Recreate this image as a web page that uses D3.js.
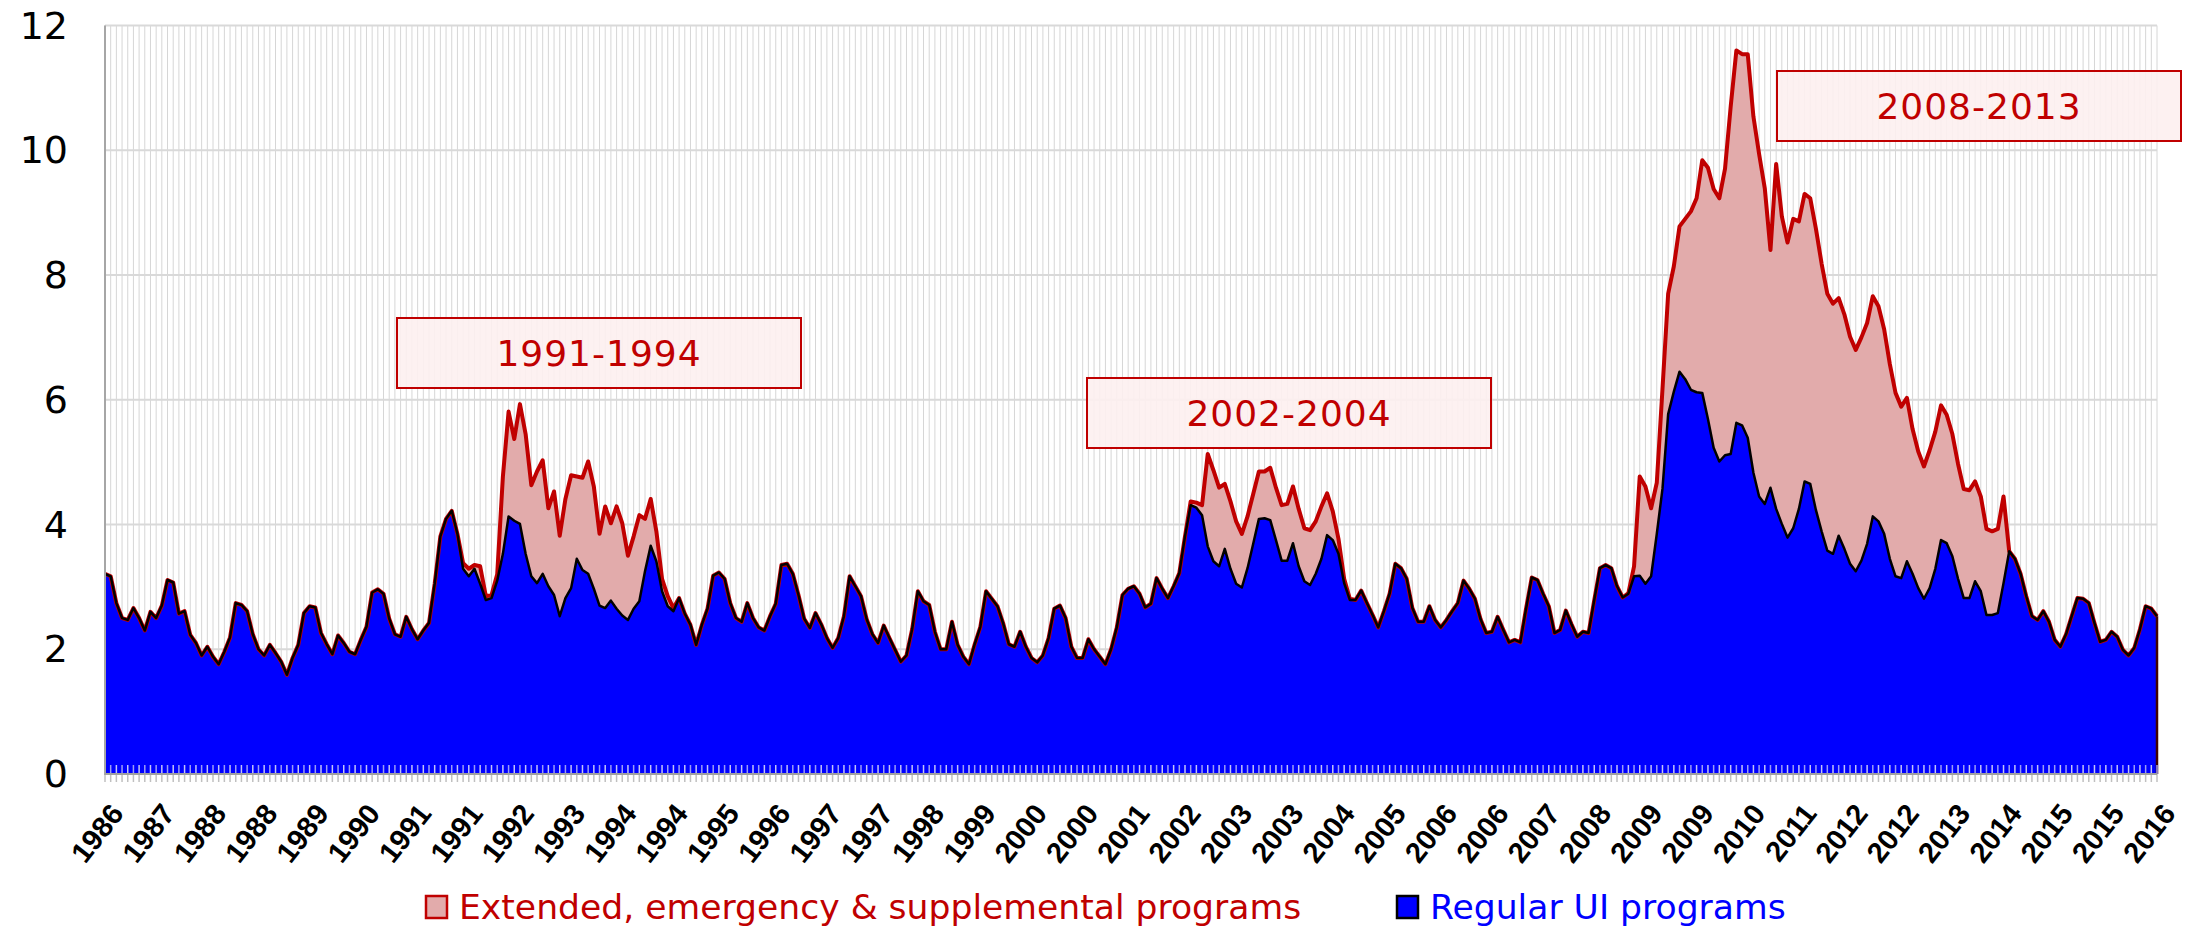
<!DOCTYPE html>
<html>
<head>
<meta charset="utf-8">
<style>
  body { margin: 0; background: #ffffff; }
  svg text { font-family: "DejaVu Sans", Verdana, sans-serif; }
  .ylab { font-size: 38px; fill: #000000; }
  .xlab { font-family: "Liberation Sans", Arial, sans-serif; font-size: 29px; font-weight: bold; fill: #000000; }
  .legend { font-size: 34.6px; }
  .note { font-size: 36px; fill: #c00000; letter-spacing: 1px; }
</style>
</head>
<body>
<svg id="chart" width="2190" height="926"></svg>
<script src="https://cdnjs.cloudflare.com/ajax/libs/d3/7.8.5/d3.min.js"></script>
<script>
// monthly values, mid 1986 .. mid 2016
var regular = [
  3.21,3.17,2.74,2.50,2.47,2.66,2.50,2.30,2.60,2.50,2.70,3.11,
  3.07,2.57,2.61,2.23,2.10,1.90,2.04,1.88,1.76,1.96,2.19,2.74,
  2.71,2.61,2.24,2.00,1.90,2.07,1.94,1.80,1.59,1.86,2.07,2.58,
  2.69,2.67,2.26,2.08,1.92,2.22,2.10,1.96,1.92,2.15,2.36,2.91,
  2.96,2.89,2.49,2.24,2.20,2.52,2.32,2.16,2.30,2.42,3.05,3.81,
  4.09,4.22,3.85,3.29,3.17,3.29,3.05,2.79,2.82,3.10,3.53,4.13,
  4.06,4.01,3.53,3.17,3.06,3.21,3.01,2.87,2.53,2.82,2.98,3.45,
  3.27,3.21,2.97,2.70,2.66,2.78,2.65,2.54,2.47,2.65,2.77,3.25,
  3.66,3.41,2.93,2.69,2.61,2.82,2.57,2.39,2.07,2.39,2.65,3.18,
  3.23,3.13,2.74,2.50,2.44,2.74,2.50,2.35,2.30,2.53,2.73,3.35,
  3.37,3.21,2.87,2.49,2.34,2.58,2.40,2.18,2.02,2.18,2.53,3.17,
  3.01,2.85,2.48,2.24,2.10,2.38,2.18,1.99,1.80,1.90,2.32,2.93,
  2.77,2.71,2.28,2.00,2.00,2.44,2.07,1.88,1.76,2.08,2.36,2.93,
  2.81,2.69,2.42,2.08,2.04,2.28,2.04,1.86,1.79,1.90,2.18,2.65,
  2.70,2.50,2.04,1.86,1.86,2.16,2.00,1.88,1.76,2.00,2.35,2.87,
  2.97,3.01,2.89,2.67,2.73,3.14,2.97,2.82,3.01,3.22,3.81,4.31,
  4.27,4.15,3.65,3.41,3.33,3.61,3.29,3.05,2.99,3.30,3.69,4.09,
  4.10,4.07,3.75,3.42,3.42,3.70,3.33,3.09,3.03,3.21,3.45,3.83,
  3.75,3.53,3.06,2.79,2.79,2.94,2.74,2.55,2.35,2.61,2.89,3.37,
  3.30,3.13,2.66,2.44,2.44,2.69,2.47,2.35,2.47,2.61,2.74,3.10,
  2.97,2.81,2.48,2.26,2.28,2.52,2.31,2.11,2.15,2.11,2.65,3.15,
  3.11,2.89,2.69,2.26,2.31,2.62,2.40,2.20,2.28,2.26,2.79,3.30,
  3.35,3.30,3.01,2.83,2.89,3.17,3.18,3.05,3.17,3.85,4.57,5.77,
  6.13,6.45,6.33,6.16,6.12,6.11,5.69,5.23,5.01,5.11,5.13,5.63,
  5.59,5.39,4.83,4.45,4.33,4.59,4.25,4.01,3.79,3.94,4.25,4.69,
  4.65,4.23,3.89,3.58,3.53,3.82,3.61,3.37,3.25,3.42,3.69,4.13,
  4.05,3.85,3.45,3.17,3.14,3.41,3.21,2.98,2.81,2.98,3.29,3.75,
  3.70,3.49,3.13,2.82,2.82,3.09,2.93,2.55,2.55,2.58,3.06,3.57,
  3.45,3.21,2.85,2.53,2.47,2.61,2.44,2.15,2.04,2.24,2.53,2.82,
  2.81,2.74,2.42,2.12,2.15,2.28,2.20,1.99,1.90,2.02,2.32,2.69,
  2.65,2.53
];

var extended = [
  0,0,0,0,0,0,0,0,0,0,0,0,
  0,0,0,0,0,0,0,0,0,0,0,0,
  0,0,0,0,0,0,0,0,0,0,0,0,
  0,0,0,0,0,0,0,0,0,0,0,0,
  0,0,0,0,0,0,0,0,0,0,0,0,
  0,0,0,0.09,0.12,0.06,0.28,0.06,0.05,0.10,1.24,1.68,
  1.31,1.92,1.92,1.46,1.79,1.82,1.25,1.66,1.29,1.59,1.81,1.32,
  1.48,1.80,1.64,1.15,1.63,1.24,1.64,1.48,1.03,1.16,1.38,0.84,
  0.75,0.48,0.20,0.16,0.05,0,0,0,0,0,0,0,
  0,0,0,0,0,0,0,0,0,0,0,0,
  0,0,0,0,0,0,0,0,0,0,0,0,
  0,0,0,0,0,0,0,0,0,0,0,0,
  0,0,0,0,0,0,0,0,0,0,0,0,
  0,0,0,0,0,0,0,0,0,0,0,0,
  0,0,0,0,0,0,0,0,0,0,0,0,
  0,0,0,0,0,0,0,0,0,0,0,0.06,
  0.08,0.16,1.48,1.46,1.26,1.04,1.08,1.00,0.86,0.83,0.80,0.76,
  0.75,0.84,0.84,0.89,0.91,0.91,0.92,0.85,0.88,0.84,0.84,0.67,
  0.46,0.24,0.07,0.02,0,0,0,0,0,0,0,0,
  0,0,0,0,0,0,0,0,0,0,0,0,
  0,0,0,0,0,0,0,0,0,0,0,0,
  0,0,0,0,0,0,0,0,0,0,0,0,
  0,0,0,0,0.01,0.16,1.59,1.56,1.09,0.82,1.60,1.93,
  2.01,2.33,2.57,2.86,3.11,3.73,4.03,4.15,4.22,4.59,5.57,5.97,
  5.95,6.15,5.71,5.49,5.06,3.81,5.53,4.93,4.73,4.96,4.61,4.61,
  4.58,4.51,4.29,4.12,4.01,3.81,3.76,3.64,3.55,3.58,3.54,3.53,
  3.45,3.28,3.12,2.94,2.75,2.62,2.32,2.19,2.12,2.21,2.20,2.16,
  2.06,1.96,1.84,1.75,1.73,1.60,1.52,1.38,1.34,1.35,1.39,0,
  0,0,0,0,0,0,0,0,0,0,0,0,
  0,0,0,0,0,0,0,0,0,0,0,0,
  0,0
];

var tickLabels = ["1986","1987","1988","1988","1989","1990","1991","1991","1992","1993",
  "1994","1994","1995","1996","1997","1997","1998","1999","2000","2000",
  "2001","2002","2003","2003","2004","2005","2006","2006","2007","2008",
  "2009","2009","2010","2011","2012","2012","2013","2014","2015","2015","2016"];

var yTicks = [0, 2, 4, 6, 8, 10, 12];
var seriesNames = ["Extended, emergency & supplemental programs", "Regular UI programs"];
var periods = ["1991-1994", "2002-2004", "2008-2013"];

var svg = d3.select("#chart");
var plotLeft = 105, plotRight = 2157, plotTop = 25.5, plotBottom = 774;
var n = regular.length;

var x = d3.scaleLinear().domain([0, n - 1]).range([plotLeft, plotRight]);
var y = d3.scaleLinear().domain([0, 12]).range([plotBottom, plotTop]);
var xl = d3.scalePoint().domain(d3.range(tickLabels.length)).range([plotLeft, plotRight]);

var rows = regular.map(function(v, i) { return { i: i, reg: v, ext: extended[i] }; });
var stacked = d3.stack().keys(["reg", "ext"])(rows);

// grid
var grid = svg.append("g");
grid.selectAll("line.v").data(rows).enter().append("line")
  .attr("x1", function(d) { return x(d.i); }).attr("x2", function(d) { return x(d.i); })
  .attr("y1", y(12)).attr("y2", y(0))
  .attr("stroke", "#d6d6d6").attr("stroke-width", 1);
grid.selectAll("line.h").data(yTicks).enter().append("line")
  .attr("x1", plotLeft).attr("x2", plotRight)
  .attr("y1", function(d) { return y(d); }).attr("y2", function(d) { return y(d); })
  .attr("stroke", "#d9d9d9").attr("stroke-width", 2);

// areas
var area = d3.area()
  .x(function(d) { return x(d.data.i); })
  .y0(function(d) { return y(d[0]); })
  .y1(function(d) { return y(d[1]); });

svg.append("path").datum(stacked[1]).attr("d", area).attr("fill", "#e2abab");
svg.append("path").datum(stacked[0]).attr("d", area).attr("fill", "#0000ff");

// right edge of the area
svg.append("line")
  .attr("x1", x(n - 1)).attr("x2", x(n - 1))
  .attr("y1", y(regular[n - 1] + extended[n - 1])).attr("y2", y(0))
  .attr("stroke", "#400000").attr("stroke-width", 2.5);

var line = function(acc) {
  return d3.line().x(function(d) { return x(d.data.i); }).y(function(d) { return y(acc(d)); });
};
svg.append("path").datum(stacked[1])
  .attr("d", line(function(d) { return d[1]; }))
  .attr("fill", "none").attr("stroke", "#c00000").attr("stroke-width", 4).attr("stroke-linejoin", "round");
svg.append("path").datum(stacked[0])
  .attr("d", line(function(d) { return d[1]; }))
  .attr("fill", "none").attr("stroke", "#000000").attr("stroke-width", 2.5).attr("stroke-linejoin", "round");

// month tick marks crossing the axis
var ticks = svg.append("g");
ticks.selectAll("line.up").data(rows).enter().append("line")
  .attr("x1", function(d) { return x(d.i); }).attr("x2", function(d) { return x(d.i); })
  .attr("y1", plotBottom - 9).attr("y2", plotBottom)
  .attr("stroke", function(d) { return d.i % 2 ? "#9c9cf4" : "#c4c4f8"; }).attr("stroke-width", 1.5);
ticks.selectAll("line.dn").data(rows).enter().append("line")
  .attr("x1", function(d) { return x(d.i); }).attr("x2", function(d) { return x(d.i); })
  .attr("y1", plotBottom).attr("y2", plotBottom + 8)
  .attr("stroke", "#c0c0c0").attr("stroke-width", 1.5);

// axes lines
svg.append("line").attr("x1", plotLeft).attr("x2", plotLeft).attr("y1", y(12)).attr("y2", plotBottom + 1)
  .attr("stroke", "#a6a6a6").attr("stroke-width", 2);
svg.append("line").attr("x1", plotLeft).attr("x2", plotRight).attr("y1", plotBottom).attr("y2", plotBottom)
  .attr("stroke", "#a0a0a0").attr("stroke-width", 2);

// y labels
svg.selectAll("text.ylab").data(yTicks).enter().append("text")
  .attr("class", "ylab")
  .attr("x", 68).attr("y", function(d) { return y(d) + 13; })
  .attr("text-anchor", "end")
  .text(function(d) { return d; });

// x labels
svg.selectAll("text.xlab").data(tickLabels).enter().append("text")
  .attr("class", "xlab")
  .attr("text-anchor", "end")
  .attr("transform", function(d, k) { return "translate(" + (xl(k) + 20) + "," + (plotBottom + 40) + ") rotate(-52)"; })
  .text(function(d) { return d; });

// period boxes
var boxes = [
  { x: 397, y: 318 },
  { x: 1087, y: 378 },
  { x: 1777, y: 71 }
];
var bw = 404, bh = 70;
var note = svg.selectAll("g.note").data(periods).enter().append("g")
  .attr("transform", function(d, k) { return "translate(" + boxes[k].x + "," + boxes[k].y + ")"; });
note.append("rect").attr("width", bw).attr("height", bh)
  .attr("fill", "#fdf0f0").attr("fill-opacity", 0.9)
  .attr("stroke", "#c00000").attr("stroke-width", 2);
note.append("text").attr("class", "note")
  .attr("x", bw / 2).attr("y", bh / 2 + 13)
  .attr("text-anchor", "middle")
  .text(function(d) { return d; });

// legend
var legendPos = [426, 1397];
var legendFill = ["#e2abab", "#0000ff"];
var legendStroke = ["#c00000", "#000000"];
var legendText = ["#c00000", "#0000ff"];
var lg = svg.selectAll("g.lg").data(seriesNames).enter().append("g")
  .attr("transform", function(d, k) { return "translate(" + legendPos[k] + ",896)"; });
lg.append("rect").attr("width", 21).attr("height", 22)
  .attr("fill", function(d, k) { return legendFill[k]; })
  .attr("stroke", function(d, k) { return legendStroke[k]; }).attr("stroke-width", 2.5);
lg.append("text").attr("class", "legend")
  .attr("x", 33).attr("y", 23)
  .attr("fill", function(d, k) { return legendText[k]; })
  .text(function(d) { return d; });
</script>
</body>
</html>
